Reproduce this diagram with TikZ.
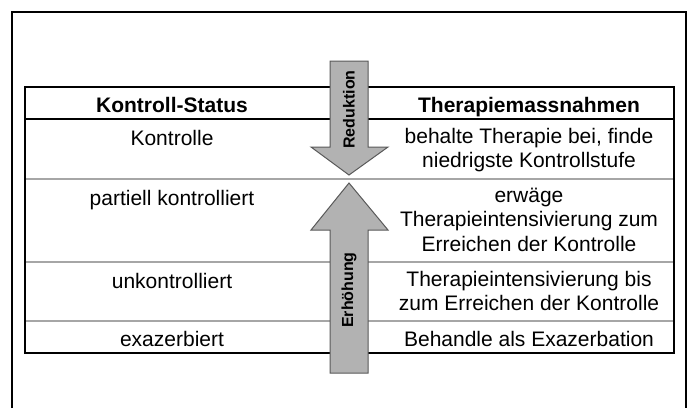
\documentclass[tikz,border=0pt]{standalone}
\usepackage{fontspec}
\setmainfont{Liberation Sans}

\begin{document}
\begin{tikzpicture}[x=1pt, y=-1pt,
    zelle/.style={anchor=north, inner sep=0pt, align=center,
      font=\fontsize{21}{24.5}\selectfont, execute at begin node=\strut},
    kopf/.style={zelle, font=\fontsize{21}{24.5}\selectfont\bfseries},
    pfeil/.style={fill=black!30, draw=black!65, line width=1pt},
    pfeiltext/.style={rotate=90, inner sep=0pt,
      font=\fontsize{16}{18}\selectfont\bfseries}]
  \useasboundingbox (0,0) rectangle (691,408);
  \draw[line width=1.2pt] (12,408) -- (12,12) -- (686,12) -- (686,408);

  % Tabelle
  \foreach \y in {179, 262, 321}{
    \draw[black!35, line width=1.5pt] (25,\y) -- (674,\y);
  }
  \draw[line width=2.5pt] (25,119) -- (674,119);
  \draw[line width=2.5pt] (25,87) rectangle (674,353);

  % Pfeile
  \draw[pfeil] (330,61) -- (368,61) -- (368,147) -- (388,147) -- (349,175)
    -- (311,147) -- (330,147) -- cycle;
  \draw[pfeil] (349,183) -- (388,230) -- (368,230) -- (368,373) -- (330,373)
    -- (330,230) -- (311,230) -- cycle;
  \node[pfeiltext] (reduktion) at (349,109.5) {Reduktion};
  \node[pfeiltext] (erhoehung) at (349,290) {Erhöhung};

  % Texte
  \node[kopf] (status) at (172,94.85) {Kontroll-Status};
  \node[kopf] (massnahmen) at (529,94.85) {Therapiemassnahmen};
  \node[zelle] (kontrolle) at (172,127.85) {Kontrolle};
  \node[zelle] (beibehalten) at (529,127.85) {behalte Therapie bei, finde\\niedrigste Kontrollstufe};
  \node[zelle] (partiell) at (172,187.85) {partiell kontrolliert};
  \node[zelle] (erwaegen) at (529,187.85) {erwäge\\Therapieintensivierung zum\\Erreichen der Kontrolle};
  \node[zelle] (unkontrolliert) at (172,270.85) {unkontrolliert};
  \node[zelle] (intensivieren) at (529,270.85) {Therapieintensivierung bis\\zum Erreichen der Kontrolle};
  \node[zelle] (exazerbiert) at (172,328.85) {exazerbiert};
  \node[zelle] (behandeln) at (529,328.85) {Behandle als Exazerbation};
\end{tikzpicture}
\end{document}
